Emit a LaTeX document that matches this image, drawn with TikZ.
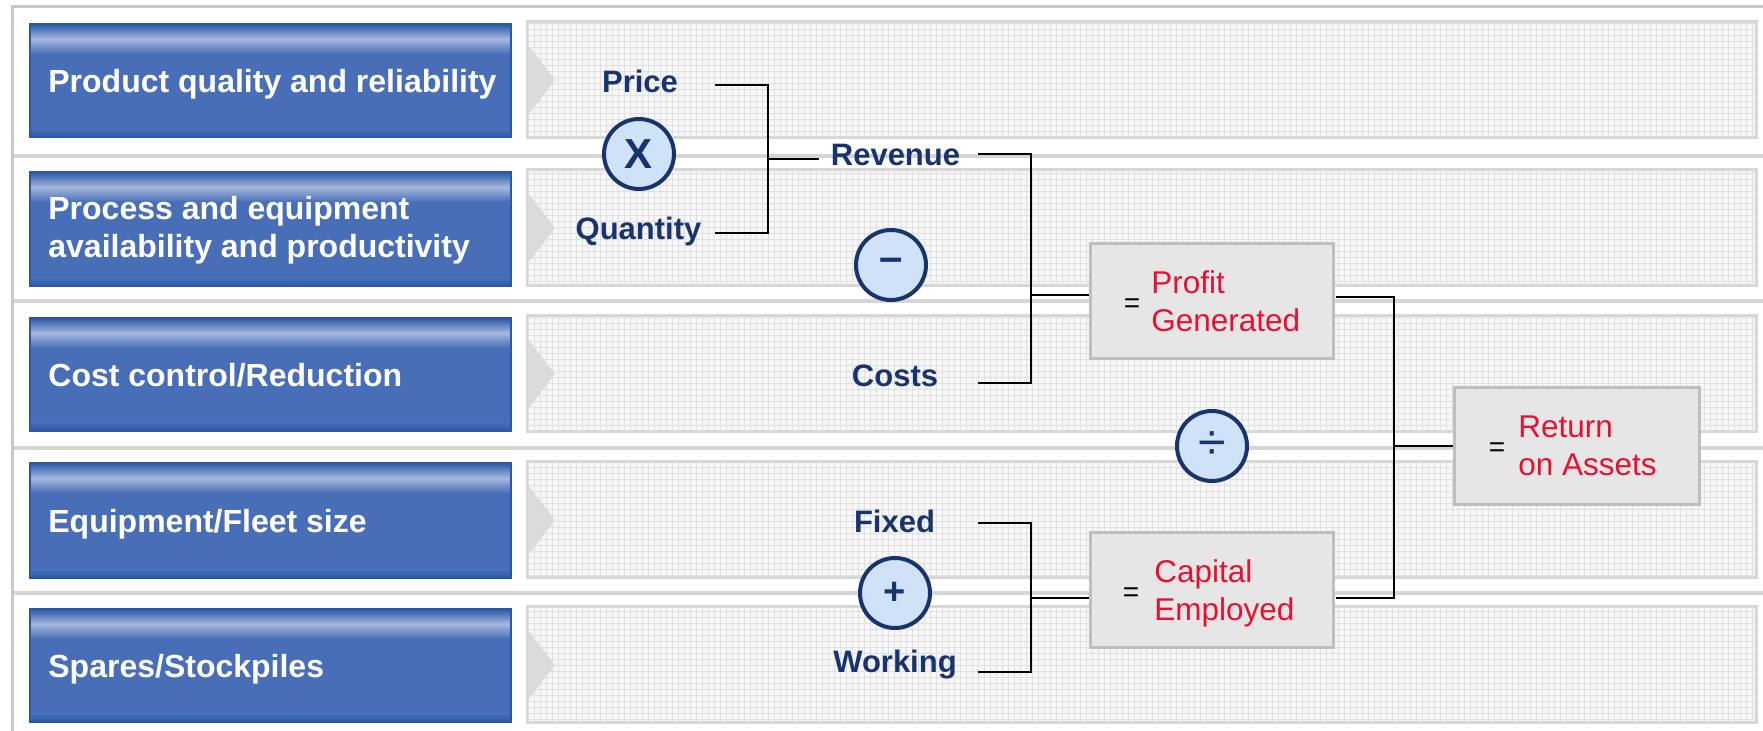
\documentclass[tikz,border=0pt]{standalone}
\usepackage{fontspec}
\setmainfont{Liberation Sans}
\usetikzlibrary{patterns}
\definecolor{navy}{RGB}{24,52,110}
\definecolor{bbase}{RGB}{72,110,184}
\definecolor{blight}{RGB}{165,183,222}
\definecolor{bedge}{RGB}{42,88,168}
\definecolor{redtxt}{RGB}{232,16,48}
\definecolor{circfill}{RGB}{207,226,248}
\definecolor{boxfill}{RGB}{230,230,230}
\definecolor{boxedge}{RGB}{190,190,190}
\definecolor{hatchedge}{RGB}{215,215,215}
\definecolor{hatchfill}{RGB}{247,247,247}
\definecolor{sepcol}{RGB}{214,214,214}
\definecolor{framecol}{RGB}{200,200,200}
\begin{document}
\begin{tikzpicture}[x=0.5pt,y=-0.5pt,
  lbl/.style={font=\fontsize{15.5}{18}\selectfont\bfseries, text=navy, inner sep=0pt, anchor=base},
  wtxt/.style={font=\fontsize{16}{19}\selectfont\bfseries, text=white, inner sep=0pt, anchor=base west},
  redt/.style={font=\fontsize{15.75}{19}\selectfont, text=redtxt, inner sep=0pt, anchor=base west},
  eqs/.style={font=\fontsize{14}{16}\selectfont, inner sep=0pt},
  opc/.style={circle, draw=navy, line width=2pt, fill=circfill, minimum size=35pt, inner sep=0pt, text=navy},
  resbox/.style={draw=boxedge, fill=boxfill, line width=1.5pt, inner sep=0pt},
  conn/.style={black, line width=1pt},
  hatchbox/.style={draw=hatchedge, fill=hatchfill, line width=1.5pt},
  chev/.style={fill=black!14},
]
\useasboundingbox (0,0) rectangle (1763,731);
\fill[white] (0,0) rectangle (1763,731);
% outer frame
\draw[framecol, line width=1.5pt] (12.6,731) -- (12.6,7) -- (1763,7);
% separators
\foreach \y in {156,301,448,593}
  \draw[sepcol, line width=2pt] (13.5,\y) -- (1763,\y);
% hatched right boxes with chevrons
\foreach \t/\b in {22/138,170/286,316/432,462/578,607/723}{
  \draw[hatchbox] (527,\t) rectangle (1756,\b);
  \fill[pattern=grid, pattern color=black!12] (528,\t+1) rectangle (1755,\b-1);
  \pgfmathsetmacro{\c}{(\t+\b)/2}
  \fill[chev] (528,\c-35) -- (555,\c) -- (528,\c+35) -- cycle;
}
% blue boxes
\foreach \t/\b in {24/137,172/286,318/431,463/578,609/722}{
  \fill[bbase] (30,\t) rectangle (511,\b);
  \shade[top color=bedge, bottom color=bbase, middle color=blight] (30,\t) rectangle (511,\t+30);
  \shade[top color=bbase, bottom color=bedge] (30,\b-8) rectangle (511,\b);
  \draw[bedge, line width=0.8pt] (30,\t) rectangle (511,\b);
}
\node[wtxt] (t1) at (48,93) {Product quality and reliability};
\node[wtxt] (t2) at (48,220) {\begin{tabular}[t]{@{}l@{}}Process and equipment\\availability and productivity\end{tabular}};
\node[wtxt] (t3) at (48,387) {Cost control/Reduction};
\node[wtxt] (t4) at (48,533) {Equipment/Fleet size};
\node[wtxt] (t5) at (48,678) {Spares/Stockpiles};
% labels
\node[lbl] (price) at (640,93) {Price};
\node[lbl] (qty) at (638.5,240) {Quantity};
\node[lbl] (rev) at (895.5,166) {Revenue};
\node[lbl] (costs) at (895,387) {Costs};
\node[lbl] (fixed) at (894.5,533) {Fixed};
\node[lbl] (working) at (895,673) {Working};
% result boxes
\node[resbox, minimum width=121.5pt, minimum height=57.5pt] (profit) at (1212,301) {};
\node[resbox, minimum width=121.5pt, minimum height=57.5pt] (capital) at (1212,590) {};
\node[resbox, minimum width=122.5pt, minimum height=58.5pt] (ret) at (1577,446) {};
\node[eqs] (eq1) at (1132,306) {=};
\node[redt] (profitT) at (1151,294) {\begin{tabular}[t]{@{}l@{}}Profit\\Generated\end{tabular}};
\node[eqs] (eq2) at (1131,595) {=};
\node[redt] (capitalT) at (1154,583) {\begin{tabular}[t]{@{}l@{}}Capital\\Employed\end{tabular}};
\node[eqs] (eq3) at (1497,450) {=};
\node[redt] (retT) at (1518,438) {\begin{tabular}[t]{@{}l@{}}Return\\on Assets\end{tabular}};
% operator circles
\node[opc, font=\fontsize{21}{21}\selectfont\bfseries] (times) at (639,154) {X};
\node[opc, font=\fontsize{21}{21}\selectfont\bfseries] (minus) at (891,265) {\raisebox{-2.5pt}{–}};
\node[opc, font=\fontsize{19}{19}\selectfont\bfseries] (plus) at (895,593) {+};
\node[opc, font=\fontsize{25}{25}\selectfont] (divide) at (1212,446) {÷};
% connectors
\coordinate (pA) at (715,85);
\coordinate (qA) at (715,233);
\coordinate (j1) at (768,159);
\draw[conn] (pA) -| (j1) |- (qA);
\draw[conn, shorten >=5.5pt] (j1) -- (j1 -| rev.west);
\coordinate (rA) at (978,154);
\coordinate (cA) at (978,383);
\coordinate (j2) at (1031,295);
\draw[conn] (rA) -| (j2) |- (cA);
\draw[conn] (j2) -- (j2 -| profit.west);
\coordinate (fA) at (978,523);
\coordinate (wA) at (978,672);
\coordinate (j3) at (1031,598);
\draw[conn] (fA) -| (j3) |- (wA);
\draw[conn] (j3) -- (j3 -| capital.west);
\coordinate (pE) at (1336,297);
\coordinate (cE) at (1336,598);
\coordinate (j4) at (1394,446);
\draw[conn] (pE) -| (j4) |- (cE);
\draw[conn] (j4) -- (ret.west);
\end{tikzpicture}
\end{document}
